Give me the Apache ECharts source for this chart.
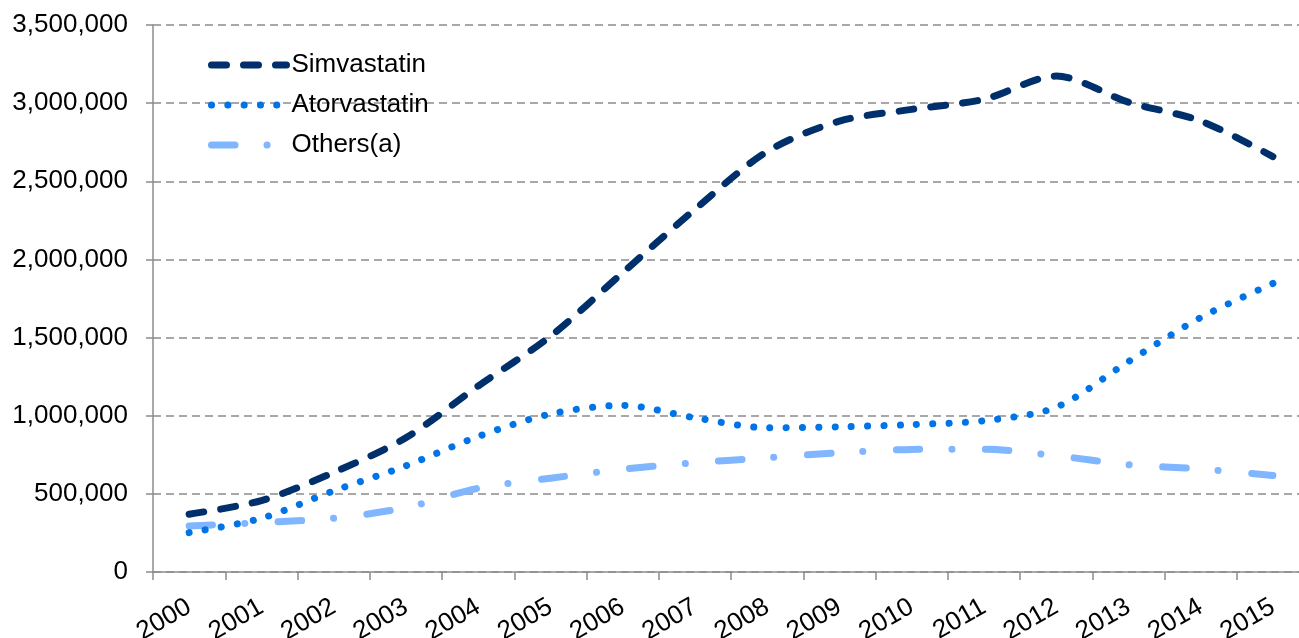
<!DOCTYPE html>
<html>
<head>
<meta charset="utf-8">
<script src="https://cdn.jsdelivr.net/npm/echarts@6/dist/echarts.min.js"></script>
<style>
html,body{margin:0;padding:0;background:#fff;overflow:hidden;width:1299px;height:638px;}
#chart{width:1309px;height:638px;}
</style>
</head>
<body>
<div id="chart"></div>
<script>
const years = ['2000','2001','2002','2003','2004','2005','2006','2007','2008','2009','2010','2011','2012','2013','2014','2015'];
const simvastatin = [370000, 457000, 637000, 859000, 1190000, 1508000, 1915000, 2320000, 2690000, 2885000, 2960000, 3025000, 3173000, 3006000, 2886000, 2658000];
const atorvastatin = [252000, 344000, 519000, 679000, 867000, 1011000, 1066000, 987000, 923000, 929000, 943000, 968000, 1054000, 1346000, 1628000, 1846000];
const others = [295000, 316000, 344000, 412000, 536000, 600000, 658000, 699000, 731000, 763000, 784000, 786000, 744000, 687000, 659000, 618000];
const seriesNames = ['Simvastatin', 'Atorvastatin', 'Others(a)'];

const chart = echarts.init(document.getElementById('chart'), null, {renderer: 'canvas'});
const font = 'Liberation Sans, Arial, sans-serif';
chart.setOption({
  animation: false,
  backgroundColor: '#ffffff',
  textStyle: {fontFamily: font},
  grid: {left: 153, top: 25, right: 0, bottom: 66, containLabel: false, outerBoundsMode: 'none'},
  legend: {
    orient: 'vertical',
    left: 203,
    top: 47,
    itemWidth: 75,
    itemHeight: 14,
    itemGap: 14,
    data: seriesNames,
    textStyle: {fontSize: 26, color: '#000', fontFamily: font, lineHeight: 26},
    itemStyle: {opacity: 0},
    lineStyle: {width: 7}
  },
  xAxis: {
    type: 'category',
    data: years,
    boundaryGap: true,
    axisLine: {lineStyle: {color: '#8c8c8c', width: 1.5}},
    axisTick: {show: true, length: 8, lineStyle: {color: '#8c8c8c', width: 1.5}},
    axisLabel: {rotate: 30, margin: 33, fontSize: 26, color: '#000', fontFamily: font, interval: 0},
    splitLine: {show: false}
  },
  yAxis: {
    type: 'value',
    min: 0,
    max: 3500000,
    interval: 500000,
    axisLine: {show: true, lineStyle: {color: '#8c8c8c', width: 1.5}},
    axisTick: {show: true, length: 7, lineStyle: {color: '#8c8c8c', width: 1.5}},
    axisLabel: {
      fontSize: 26, color: '#000', fontFamily: font, margin: 25,
      formatter: v => v.toLocaleString('en-US')
    },
    splitLine: {show: true, lineStyle: {color: '#8c8c8c', width: 1.5, type: [8, 5]}}
  },
  series: [
    {
      name: seriesNames[0], type: 'line', data: simvastatin, smooth: 0.3,
      symbol: 'none', color: '#00306b',
      lineStyle: {color: '#00306b', width: 7, type: [15, 17], cap: 'round', join: 'round'},
      z: 4
    },
    {
      name: seriesNames[1], type: 'line', data: atorvastatin, smooth: 0.3,
      symbol: 'none', color: '#0073e6',
      lineStyle: {color: '#0073e6', width: 7, type: [0.1, 16.2], cap: 'round', join: 'round'},
      z: 3
    },
    {
      name: seriesNames[2], type: 'line', data: others, smooth: 0.3,
      symbol: 'none', color: '#80b6ff',
      lineStyle: {color: '#80b6ff', width: 7, type: [23.5, 32, 0.1, 33.5], cap: 'round', join: 'round'},
      z: 2
    }
  ]
});
</script>
</body>
</html>
